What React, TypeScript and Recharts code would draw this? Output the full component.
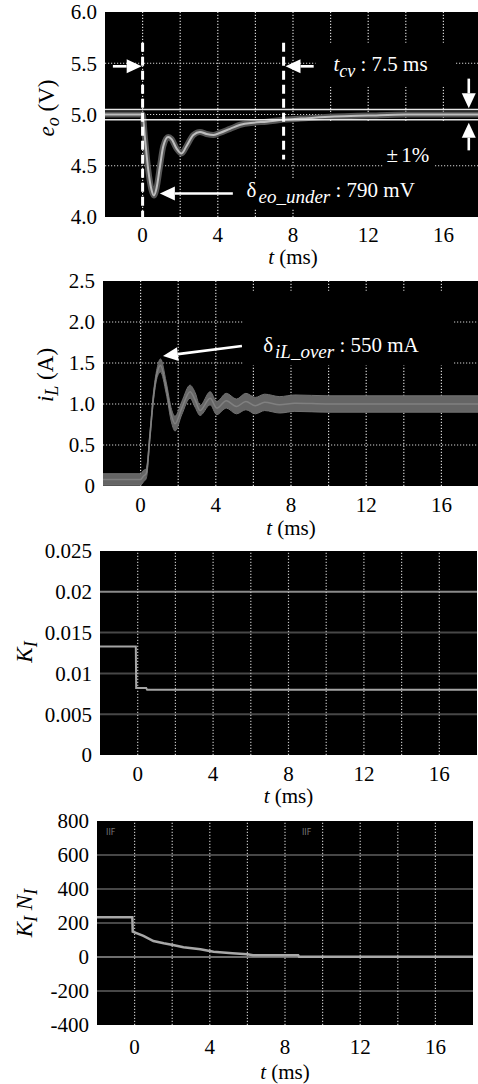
import React from 'react';
import {
  ComposedChart,
  Line,
  Area,
  XAxis,
  YAxis,
  CartesianGrid,
  ReferenceLine,
  ReferenceArea,
  ReferenceDot,
} from 'recharts';

const serif = "'Liberation Serif', Tinos, 'Times New Roman', 'Nimbus Roman', 'DejaVu Serif', 'Noto Serif', serif";

// shared time axis (ms)
const timeTicks = [0, 4, 8, 12, 16];
const gridTimes = [0, 2, 4, 6, 8, 10, 12, 14, 16];

// output voltage e_o (V)
const eoTime = [-2, 0, 0.12, 0.3, 0.48, 0.6, 0.74, 0.92, 1.1, 1.36, 1.54, 1.8, 2.07, 2.33, 2.7, 3.05, 3.4, 3.76, 4.1, 4.65, 5.2, 5.9, 6.6, 7.5, 8.4, 10.2, 12, 14, 18];
const eoVolts = [5.0, 5.0, 4.78, 4.46, 4.26, 4.21, 4.28, 4.49, 4.69, 4.78, 4.76, 4.67, 4.62, 4.69, 4.8, 4.83, 4.81, 4.8, 4.82, 4.86, 4.9, 4.92, 4.93, 4.95, 4.96, 4.98, 4.99, 5.0, 5.0];
const eoTicks = [4, 4.5, 5, 5.5, 6];
const eoGrid = [4.5, 5, 5.5];
const eoLimits = [4.95, 5.05]; // +-1 % of 5 V

// inductor current i_L (A): centre of the scope band and its half width
const ilTime = [-2, 0, 0.15, 0.3, 0.5, 0.7, 0.9, 1.06, 1.36, 1.65, 1.83, 2.19, 2.63, 2.9, 3.16, 3.7, 4.05, 4.56, 5.1, 5.6, 6.1, 6.6, 7.4, 8.2, 10, 12, 14, 16, 18];
const ilMid = [0.08, 0.08, 0.12, 0.15, 0.62, 1.12, 1.4, 1.47, 1.2, 0.85, 0.76, 0.95, 1.15, 1.05, 0.92, 1.07, 0.95, 1.04, 0.97, 1.03, 0.98, 1.02, 0.99, 1.01, 1.0, 1.0, 1.0, 1.0, 1.0];
const ilSpread = [0.07, 0.07, 0.07, 0.06, 0.05, 0.05, 0.06, 0.08, 0.07, 0.08, 0.09, 0.08, 0.08, 0.09, 0.06, 0.08, 0.08, 0.09, 0.09, 0.1, 0.1, 0.1, 0.1, 0.1, 0.1, 0.1, 0.1, 0.1, 0.1];
const ilTicks = [0, 0.5, 1, 1.5, 2, 2.5];
const ilGrid = [0.5, 1, 1.5, 2];

// integral gain K_I
const kiTime = [-2, -0.1, -0.08, 0.45, 0.5, 18];
const kiGain = [0.0133, 0.0133, 0.0082, 0.0082, 0.008, 0.008];
const kiTicks = [0, 0.005, 0.01, 0.015, 0.02, 0.025];
const kiGrid = [0.005, 0.01, 0.015];
const kiLimit = 0.02;

// K_I * N_I
const knTime = [-2, -0.12, -0.1, 0.47, 1.0, 1.55, 2.04, 2.6, 3.5, 4.2, 5.2, 6.0, 6.3, 8.7, 8.75, 18];
const knValue = [234, 234, 149, 124, 94, 81, 71, 57, 45, 31, 22, 16, 10, 10, 2, 2];
const knTicks = [-400, -200, 0, 200, 400, 600, 800];
const knGrid = [-200, 200, 400, 600];

const eoData = eoTime.map((t, i) => ({ t, v: eoVolts[i] }));
const ilData = ilTime.map((t, i) => ({
  t,
  mid: ilMid[i],
  band: [ilMid[i] - ilSpread[i], ilMid[i] + ilSpread[i]],
}));
const kiData = kiTime.map((t, i) => ({ t, v: kiGain[i] }));
const knData = knTime.map((t, i) => ({ t, v: knValue[i] }));

// layer order (used when the installed recharts knows zIndex)
const Z = { low: 10, mid: 15, high: 20, mask: 30, band: 100, trace: 400, mark: 500, note: 600 };

const dotted = { stroke: '#d2d2d2', strokeWidth: 1.2, strokeDasharray: '1.2 1.8' };
const tickFont = { fontFamily: serif, fontSize: 21, fill: '#000' };

const XTitle = ({ viewBox, dy }: any) => (
  <text
    x={viewBox.x + viewBox.width / 2}
    y={viewBox.y + dy}
    textAnchor="middle"
    style={{ fontFamily: serif, fontSize: 21 }}
    fill="#000"
  >
    <tspan fontStyle="italic">t</tspan> (ms)
  </text>
);

// rotated axis title; px is the baseline x, py the centre along the axis
const YTitle = ({ px, py, children }: any) => (
  <text
    x={px}
    y={py}
    transform={`rotate(-90 ${px} ${py})`}
    textAnchor="middle"
    style={{ fontFamily: serif, fontSize: 23 }}
    fill="#000"
  >
    {children}
  </text>
);

// arrow drawn along a ReferenceLine segment, head at the second point
const Arrow = (p: any) => {
  const { x1, y1, x2, y2 } = p;
  const len = Math.hypot(x2 - x1, y2 - y1) || 1;
  const ux = (x2 - x1) / len;
  const uy = (y2 - y1) / len;
  const bx = x2 - ux * 15;
  const by = y2 - uy * 15;
  return (
    <g>
      <line x1={x1} y1={y1} x2={bx} y2={by} stroke="#fff" strokeWidth={2.6} />
      <polygon
        points={`${x2},${y2} ${bx - uy * 7},${by + ux * 7} ${bx + uy * 7},${by - ux * 7}`}
        fill="#fff"
      />
    </g>
  );
};

const note = (content: React.ReactNode, size = 21, color = '#fff', family = serif) => (p: any) => (
  <text x={p.cx} y={p.cy} style={{ fontFamily: family, fontSize: size }} fill={color}>
    {content}
  </text>
);

const timeAxis = (height: number, margin: number, titleDy: number) => (
  <XAxis
    dataKey="t"
    type="number"
    domain={[-2, 18]}
    ticks={timeTicks}
    interval={0}
    allowDataOverflow
    axisLine={false}
    tickLine={false}
    tickSize={0}
    tickMargin={margin}
    tick={tickFont}
    height={height}
    label={<XTitle dy={titleDy} />}
  />
);

const vGrid = (z: number, style: any = dotted) =>
  gridTimes.map((t) => <ReferenceLine key={`v${t}`} x={t} {...style} zIndex={z} />);

const EoPanel = () => (
  <ComposedChart width={481} height={270} data={eoData} margin={{ top: 12, right: 0, bottom: 0, left: 0 }}>
    <CartesianGrid fill="#000" stroke="none" horizontal={false} vertical={false} />
    {timeAxis(53, 10, 47)}
    <YAxis
      type="number"
      domain={[4, 6]}
      ticks={eoTicks}
      interval={0}
      width={105}
      axisLine={false}
      tickLine={false}
      tickSize={0}
      tickMargin={8}
      tick={tickFont}
      tickFormatter={(v: number) => v.toFixed(1)}
      label={
        <YTitle px={54} py={108}>
          <tspan fontStyle="italic">e</tspan>
          <tspan fontStyle="italic" fontSize={18} dy={5}>o</tspan>
          <tspan dy={-5}> (V)</tspan>
        </YTitle>
      }
    />
    {vGrid(Z.low)}
    <ReferenceArea x1={9.1} x2={18} y1={4} y2={4.93} fill="#000" fillOpacity={1} stroke="none" zIndex={Z.mid} />
    {eoGrid.map((v) => (
      <ReferenceLine key={`h${v}`} y={v} {...dotted} zIndex={Z.high} />
    ))}
    <ReferenceArea x1={9.2} x2={16.65} y1={5.27} y2={5.7} fill="#000" fillOpacity={1} stroke="none" zIndex={Z.mask} />
    <ReferenceArea x1={12.8} x2={15.55} y1={4.42} y2={4.6} fill="#000" fillOpacity={1} stroke="none" zIndex={Z.mask} />
    <ReferenceArea x1={5.4} x2={14.9} y1={4.08} y2={4.38} fill="#000" fillOpacity={1} stroke="none" zIndex={Z.mask} />
    <Line type="monotone" dataKey="v" stroke="#555" strokeWidth={6} dot={false} isAnimationActive={false} zIndex={Z.trace} />
    <Line type="monotone" dataKey="v" stroke="#bdbdbd" strokeWidth={2} dot={false} isAnimationActive={false} zIndex={Z.trace} />
    {eoLimits.map((v) => (
      <ReferenceLine key={`l${v}`} y={v} stroke="#e6e6e6" strokeWidth={1.5} zIndex={Z.mark} />
    ))}
    <ReferenceLine segment={[{ x: 0, y: 5.7 }, { x: 0, y: 4 }]} stroke="#fff" strokeWidth={3} strokeDasharray="9 5" zIndex={Z.mark} />
    <ReferenceLine segment={[{ x: 7.5, y: 5.7 }, { x: 7.5, y: 4.56 }]} stroke="#fff" strokeWidth={3} strokeDasharray="9 5" zIndex={Z.mark} />
    <ReferenceLine segment={[{ x: -1.58, y: 5.47 }, { x: -0.05, y: 5.47 }]} shape={Arrow} zIndex={Z.note} />
    <ReferenceLine segment={[{ x: 9.1, y: 5.47 }, { x: 7.6, y: 5.47 }]} shape={Arrow} zIndex={Z.note} />
    <ReferenceLine segment={[{ x: 17.35, y: 5.35 }, { x: 17.35, y: 5.06 }]} shape={Arrow} zIndex={Z.note} />
    <ReferenceLine segment={[{ x: 17.35, y: 4.65 }, { x: 17.35, y: 4.92 }]} shape={Arrow} zIndex={Z.note} />
    <ReferenceLine segment={[{ x: 4.8, y: 4.23 }, { x: 0.92, y: 4.23 }]} shape={Arrow} zIndex={Z.note} />
    <ReferenceDot
      x={10.15}
      y={5.427}
      r={0}
      zIndex={Z.note}
      shape={note(
        <>
          <tspan fontStyle="italic">t</tspan>
          <tspan fontStyle="italic" fontSize={18} dy={6}>cv</tspan>
          <tspan dy={-6}> : 7.5 ms</tspan>
        </>,
      )}
    />
    <ReferenceDot
      x={12.98}
      y={4.54}
      r={0}
      zIndex={Z.note}
      shape={note(
        <>
          <tspan>±</tspan>
          <tspan dx={3}>1%</tspan>
        </>,
      )}
    />
    <ReferenceDot
      x={5.53}
      y={4.195}
      r={0}
      zIndex={Z.note}
      shape={note(
        <>
          <tspan>δ</tspan>
          <tspan fontStyle="italic" fontSize={19} dx={2} dy={6}>eo_under</tspan>
          <tspan dy={-6}> : 790 mV</tspan>
        </>,
      )}
    />
  </ComposedChart>
);

const IlPanel = () => (
  <ComposedChart width={479} height={270} data={ilData} margin={{ top: 11, right: 0, bottom: 0, left: 0 }}>
    <CartesianGrid fill="#000" stroke="none" horizontal={false} vertical={false} />
    {timeAxis(54, 11, 49)}
    <YAxis
      type="number"
      domain={[0, 2.5]}
      ticks={ilTicks}
      interval={0}
      width={103}
      axisLine={false}
      tickLine={false}
      tickSize={0}
      tickMargin={8}
      tick={tickFont}
      tickFormatter={(v: number) => (v === 0 ? '0' : v.toFixed(1))}
      label={
        <YTitle px={53} py={105}>
          <tspan fontStyle="italic">i</tspan>
          <tspan fontStyle="italic" fontSize={18} dy={5}>L</tspan>
          <tspan dy={-5}> (A)</tspan>
        </YTitle>
      }
    />
    {vGrid(Z.low)}
    {ilGrid.map((v) => (
      <ReferenceLine key={`h${v}`} y={v} {...dotted} zIndex={Z.high} />
    ))}
    <ReferenceArea x1={5.45} x2={16.65} y1={1.47} y2={2.38} fill="#000" fillOpacity={1} stroke="none" zIndex={Z.mask} />
    <Area
      type="monotone"
      dataKey="band"
      fill="#656565"
      fillOpacity={1}
      stroke="#727272"
      strokeWidth={1}
      isAnimationActive={false}
      zIndex={Z.band}
    />
    <Line type="monotone" dataKey="mid" stroke="#808080" strokeWidth={1.5} dot={false} isAnimationActive={false} zIndex={Z.trace} />
    <ReferenceLine segment={[{ x: 5.39, y: 1.707 }, { x: 1.19, y: 1.585 }]} shape={Arrow} zIndex={Z.note} />
    <ReferenceDot
      x={6.52}
      y={1.638}
      r={0}
      zIndex={Z.note}
      shape={note(
        <>
          <tspan>δ</tspan>
          <tspan fontStyle="italic" fontSize={19} dx={2} dy={6}>iL_over</tspan>
          <tspan dy={-6}> : 550 mA</tspan>
        </>,
      )}
    />
  </ComposedChart>
);

const KiPanel = () => (
  <ComposedChart width={478} height={270} data={kiData} margin={{ top: 11, right: 1, bottom: 0, left: 0 }}>
    <CartesianGrid fill="#000" stroke="none" horizontal={false} vertical={false} />
    {timeAxis(55, 11, 48)}
    <YAxis
      type="number"
      domain={[0, 0.025]}
      ticks={kiTicks}
      interval={0}
      width={100}
      axisLine={false}
      tickLine={false}
      tickSize={0}
      tickMargin={8}
      tick={tickFont}
      tickFormatter={(v: number) => String(v)}
      label={
        <YTitle px={32} py={112}>
          <tspan fontStyle="italic">K</tspan>
          <tspan fontStyle="italic" fontSize={18} dy={5}>I</tspan>
        </YTitle>
      }
    />
    {kiGrid.map((v) => (
      <ReferenceLine key={`h${v}`} y={v} stroke="#474747" strokeWidth={2} zIndex={Z.low} />
    ))}
    <ReferenceLine y={kiLimit} stroke="#8a8a8a" strokeWidth={2} zIndex={Z.low} />
    {vGrid(Z.high, { ...dotted, stroke: '#bdbdbd' })}
    <Line type="linear" dataKey="v" stroke="#a4a4a4" strokeWidth={2} dot={false} isAnimationActive={false} zIndex={Z.trace} />
  </ComposedChart>
);

const KnPanel = () => (
  <ComposedChart width={478} height={274} data={knData} margin={{ top: 11, right: 5, bottom: 0, left: 0 }}>
    <CartesianGrid fill="#000" stroke="none" horizontal={false} vertical={false} />
    {timeAxis(59, 14, 54)}
    <YAxis
      type="number"
      domain={[-400, 800]}
      ticks={knTicks}
      interval={0}
      width={97}
      axisLine={false}
      tickLine={false}
      tickSize={0}
      tickMargin={8}
      tick={tickFont}
      label={
        <YTitle px={32} py={103}>
          <tspan fontStyle="italic">K</tspan>
          <tspan fontStyle="italic" fontSize={18} dy={5}>I</tspan>
          <tspan fontStyle="italic" dy={-5}> N</tspan>
          <tspan fontStyle="italic" fontSize={18} dy={5}>I</tspan>
        </YTitle>
      }
    />
    {knGrid.map((v) => (
      <ReferenceLine key={`h${v}`} y={v} stroke="#474747" strokeWidth={2} zIndex={Z.low} />
    ))}
    <ReferenceLine y={0} stroke="#6e6e6e" strokeWidth={2} zIndex={Z.low} />
    {vGrid(Z.high, { ...dotted, stroke: '#bdbdbd' })}
    <Line type="linear" dataKey="v" stroke="#a8a8a8" strokeWidth={2.5} dot={false} isAnimationActive={false} zIndex={Z.trace} />
    <ReferenceDot x={-1.52} y={718} r={0} zIndex={Z.note} shape={note('IIF', 8, '#777', 'DejaVu Sans')} />
    <ReferenceDot x={8.9} y={718} r={0} zIndex={Z.note} shape={note('IIF', 8, '#777', 'DejaVu Sans')} />
  </ComposedChart>
);

export default function App() {
  return (
    <div
      style={{
        position: 'absolute',
        left: 0,
        top: 0,
        width: 478,
        height: 1084,
        overflow: 'hidden',
        background: '#fff',
        fontFamily: serif,
      }}
    >
      <div style={{ position: 'absolute', left: 0, top: 0 }}>
        <EoPanel />
      </div>
      <div style={{ position: 'absolute', left: 0, top: 270 }}>
        <IlPanel />
      </div>
      <div style={{ position: 'absolute', left: 0, top: 540 }}>
        <KiPanel />
      </div>
      <div style={{ position: 'absolute', left: 0, top: 810 }}>
        <KnPanel />
      </div>
    </div>
  );
}
